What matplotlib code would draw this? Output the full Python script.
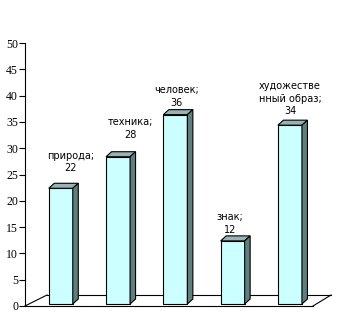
import matplotlib as mpl
mpl.use('Agg')
import matplotlib.pyplot as plt
from matplotlib.patches import Rectangle, Polygon
from matplotlib.lines import Line2D
from matplotlib.transforms import ScaledTranslation

categories = ['природа;', 'техника;', 'человек;', 'знак;', 'художестве\nнный образ;']
values = [22, 28, 36, 12, 34]
yticks = list(range(0, 51, 5))

front_col = '#CCFFFF'
side_col = '#5F7F7F'
top_col = '#99B3B3'

W, H = 364, 334
fig = plt.figure(figsize=(W / 100, H / 100), dpi=100)
fig.patch.set_facecolor('white')

# plot box in pixels: y axis at x=25, 0 at y=306, 50 at y=43
x0, x1 = -0.607, 4.42
ax = fig.add_axes([25 / W, (H - 306) / H, 288 / W, 263 / H])
ax.set_xlim(x0, x1)
ax.set_ylim(0, 50)
ax.set_facecolor('none')

px_x = 288 / (x1 - x0)
px_y = 263 / 50.0
bw = 24 / px_x
dxd = 5.5 / px_x
dyd = 5.0 / px_y

# bars sit slightly back on the floor
lift = ax.transData + ScaledTranslation(1 / 100, 2 / 100, fig.dpi_scale_trans)

for i, v in enumerate(values):
    l, r = i - bw / 2, i + bw / 2
    ax.add_patch(Rectangle((l, 0), bw, v, fc=front_col, ec='black', lw=0.8,
                           transform=lift, zorder=3))
    ax.add_patch(Polygon([(l, v), (l + dxd, v + dyd), (r + dxd, v + dyd), (r, v)],
                         closed=True, fc=top_col, ec='black', lw=0.8,
                         transform=lift, zorder=3))
    ax.add_patch(Polygon([(r, 0), (r, v), (r + dxd, v + dyd), (r + dxd, dyd)],
                         closed=True, fc=side_col, ec='black', lw=0.8,
                         transform=lift, zorder=3))

# data labels (hand-placed offsets, pixels)
nudge_x = [10, 12, 1, -3, 0]
nudge_y = [15, 17, 7, 6, 9]
for i, (c, v) in enumerate(zip(categories, values)):
    ax.annotate('%s\n%d' % (c, v), xy=(i, v), xycoords=lift,
                xytext=(nudge_x[i], nudge_y[i]), textcoords='offset pixels',
                ha='center', va='bottom', fontsize=7, linespacing=1.3,
                family='DejaVu Sans', color='black', zorder=5)

# floor outline
ax.add_line(Line2D([0, 22 / 288], [0, 11 / 263], color='black', lw=0.8,
                   transform=ax.transAxes, clip_on=False))
ax.add_line(Line2D([22 / 288, 1 + 18 / 288], [11 / 263, 11 / 263], color='black',
                   lw=0.8, transform=ax.transAxes, clip_on=False))
ax.add_line(Line2D([1, 1 + 18 / 288], [0, 11 / 263], color='black', lw=0.8,
                   transform=ax.transAxes, clip_on=False))

for s in ['top', 'right']:
    ax.spines[s].set_visible(False)
ax.spines['left'].set_linewidth(0.8)
ax.spines['bottom'].set_linewidth(0.8)
ax.set_xticks([])
ax.set_yticks(yticks)
ax.tick_params(axis='y', direction='out', length=4, width=0.8, pad=1,
               labelsize=8.5, colors='black')
for t in ax.get_yticklabels():
    t.set_family('Liberation Serif')

plt.savefig('out.png', dpi=100)
